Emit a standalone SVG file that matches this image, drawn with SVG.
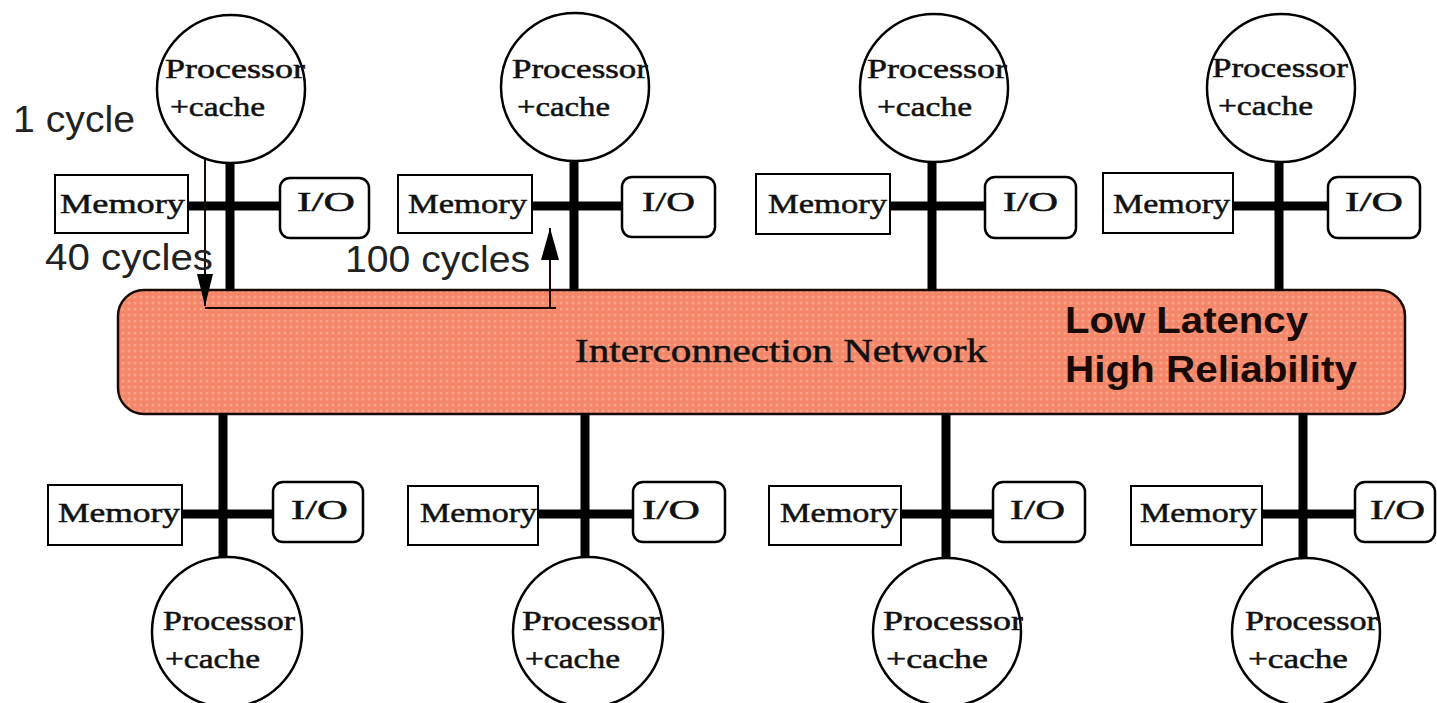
<svg xmlns="http://www.w3.org/2000/svg" width="1437" height="703" viewBox="0 0 1437 703">
<style>
.bus{stroke:#000;stroke-width:9;fill:none}
.proc{fill:#fff;stroke:#000;stroke-width:2.5}
.mem{fill:#fff;stroke:#000;stroke-width:2}
.io{fill:#fff;stroke:#000;stroke-width:2.5}
.st{font-family:"Liberation Serif","Times New Roman",serif;font-size:27px;fill:#111;stroke:#111;stroke-width:0.5}
.sa{font-family:"Liberation Sans",Arial,sans-serif;font-size:36px;fill:#222}
.sb{font-family:"Liberation Sans",Arial,sans-serif;font-size:36px;font-weight:bold;fill:#1a0a05}
.thin{stroke:#1a0a05;stroke-width:2;fill:none}
</style>
<defs>
<pattern id="dots" width="6" height="6" patternUnits="userSpaceOnUse">
<rect width="6" height="6" fill="#F4876A"/>
<circle cx="3" cy="3" r="1.6" fill="#F9A285"/>
</pattern>
<marker id="ah" viewBox="0 0 32 16" refX="32" refY="8" markerWidth="32" markerHeight="16" markerUnits="userSpaceOnUse" orient="auto">
<path d="M0,0 L32,8 L0,16 Z" fill="#000"/>
</marker>
<marker id="au" viewBox="0 0 32 18" refX="32" refY="9" markerWidth="32" markerHeight="18" markerUnits="userSpaceOnUse" orient="auto">
<path d="M0,0 L32,9 L0,18 Z" fill="#000"/>
</marker>
</defs>
<rect width="1437" height="703" fill="#fff"/>

<g id="network">
<rect x="118" y="290" width="1287" height="124" rx="26" ry="26" fill="url(#dots)" stroke="#1a0a05" stroke-width="2.5"/>
<text class="st" x="575" y="362" style="font-size:33px" textLength="412" lengthAdjust="spacingAndGlyphs">Interconnection Network</text>
<text class="sb" x="1065" y="333" textLength="243" lengthAdjust="spacingAndGlyphs">Low Latency</text>
<text class="sb" x="1065" y="382" textLength="292" lengthAdjust="spacingAndGlyphs">High Reliability</text>
</g>

<g id="connectors">
<line class="bus" x1="230" y1="160" x2="230" y2="291"/><line class="bus" x1="188" y1="206" x2="280" y2="206"/>
<line class="bus" x1="574" y1="160" x2="574" y2="291"/><line class="bus" x1="532" y1="206" x2="622" y2="206"/>
<line class="bus" x1="932" y1="160" x2="932" y2="291"/><line class="bus" x1="890" y1="206" x2="985" y2="206"/>
<line class="bus" x1="1279" y1="160" x2="1279" y2="291"/><line class="bus" x1="1233" y1="206" x2="1328" y2="206"/>
<line class="bus" x1="223" y1="413" x2="223" y2="560"/><line class="bus" x1="182" y1="514" x2="273" y2="514"/>
<line class="bus" x1="585" y1="413" x2="585" y2="560"/><line class="bus" x1="538" y1="514" x2="633" y2="514"/>
<line class="bus" x1="946" y1="413" x2="946" y2="560"/><line class="bus" x1="901" y1="514" x2="993" y2="514"/>
<line class="bus" x1="1303" y1="413" x2="1303" y2="560"/><line class="bus" x1="1262" y1="514" x2="1355" y2="514"/>
<path class="thin" d="M205,140 L205,306" marker-end="url(#ah)"/>
<path class="thin" d="M205,308 L556,308"/>
<path class="thin" d="M550,308 L550,228" marker-end="url(#au)"/>
</g>

<g id="labels">
<text class="sa" x="13" y="132" textLength="122" lengthAdjust="spacingAndGlyphs">1 cycle</text>
<text class="sa" x="45" y="270" textLength="168" lengthAdjust="spacingAndGlyphs">40 cycles</text>
<text class="sa" x="345" y="272" textLength="185" lengthAdjust="spacingAndGlyphs">100 cycles</text>
</g>

<g id="node-top-1">
<circle class="proc" cx="231" cy="89" r="74"/>
<text class="st" x="165" y="78" textLength="140" lengthAdjust="spacingAndGlyphs">Processor</text>
<text class="st" x="170" y="116" textLength="95" lengthAdjust="spacingAndGlyphs">+cache</text>
<rect class="mem" x="55" y="175" width="133" height="58"/>
<text class="st" x="60" y="213" textLength="125" lengthAdjust="spacingAndGlyphs">Memory</text>
<rect class="io" x="280" y="178" width="89" height="60" rx="10"/>
<text class="st" x="297" y="211" textLength="58" lengthAdjust="spacingAndGlyphs">I/O</text>
</g>

<g id="node-top-2">
<circle class="proc" cx="575" cy="87" r="74"/>
<text class="st" x="512" y="78" textLength="136" lengthAdjust="spacingAndGlyphs">Processor</text>
<text class="st" x="517" y="116" textLength="93" lengthAdjust="spacingAndGlyphs">+cache</text>
<rect class="mem" x="398" y="175" width="134" height="58"/>
<text class="st" x="408" y="213" textLength="119" lengthAdjust="spacingAndGlyphs">Memory</text>
<rect class="io" x="622" y="177" width="93" height="60" rx="10"/>
<text class="st" x="642" y="211" textLength="53" lengthAdjust="spacingAndGlyphs">I/O</text>
</g>

<g id="node-top-3">
<circle class="proc" cx="934" cy="88" r="74"/>
<text class="st" x="867" y="78" textLength="140" lengthAdjust="spacingAndGlyphs">Processor</text>
<text class="st" x="877" y="116" textLength="95" lengthAdjust="spacingAndGlyphs">+cache</text>
<rect class="mem" x="756" y="174" width="134" height="60"/>
<text class="st" x="768" y="213" textLength="119" lengthAdjust="spacingAndGlyphs">Memory</text>
<rect class="io" x="985" y="177" width="91" height="61" rx="10"/>
<text class="st" x="1003" y="211" textLength="55" lengthAdjust="spacingAndGlyphs">I/O</text>
</g>

<g id="node-top-4">
<circle class="proc" cx="1281" cy="88" r="74"/>
<text class="st" x="1212" y="77" textLength="136" lengthAdjust="spacingAndGlyphs">Processor</text>
<text class="st" x="1218" y="115" textLength="95" lengthAdjust="spacingAndGlyphs">+cache</text>
<rect class="mem" x="1103" y="173" width="130" height="60"/>
<text class="st" x="1113" y="213" textLength="117" lengthAdjust="spacingAndGlyphs">Memory</text>
<rect class="io" x="1328" y="177" width="92" height="61" rx="10"/>
<text class="st" x="1345" y="211" textLength="58" lengthAdjust="spacingAndGlyphs">I/O</text>
</g>

<g id="node-bottom-1">
<circle class="proc" cx="227" cy="632" r="75"/>
<text class="st" x="163" y="630" textLength="132" lengthAdjust="spacingAndGlyphs">Processor</text>
<text class="st" x="165" y="668" textLength="95" lengthAdjust="spacingAndGlyphs">+cache</text>
<rect class="mem" x="48" y="485" width="134" height="60"/>
<text class="st" x="58" y="522" textLength="122" lengthAdjust="spacingAndGlyphs">Memory</text>
<rect class="io" x="273" y="482" width="90" height="60" rx="10"/>
<text class="st" x="291" y="519" textLength="57" lengthAdjust="spacingAndGlyphs">I/O</text>
</g>

<g id="node-bottom-2">
<circle class="proc" cx="588" cy="632" r="75"/>
<text class="st" x="522" y="630" textLength="138" lengthAdjust="spacingAndGlyphs">Processor</text>
<text class="st" x="525" y="668" textLength="95" lengthAdjust="spacingAndGlyphs">+cache</text>
<rect class="mem" x="408" y="486" width="130" height="59"/>
<text class="st" x="420" y="522" textLength="117" lengthAdjust="spacingAndGlyphs">Memory</text>
<rect class="io" x="633" y="482" width="92" height="60" rx="10"/>
<text class="st" x="642" y="519" textLength="58" lengthAdjust="spacingAndGlyphs">I/O</text>
</g>

<g id="node-bottom-3">
<circle class="proc" cx="947" cy="632" r="74"/>
<text class="st" x="883" y="630" textLength="140" lengthAdjust="spacingAndGlyphs">Processor</text>
<text class="st" x="886" y="668" textLength="102" lengthAdjust="spacingAndGlyphs">+cache</text>
<rect class="mem" x="769" y="486" width="132" height="59"/>
<text class="st" x="780" y="522" textLength="118" lengthAdjust="spacingAndGlyphs">Memory</text>
<rect class="io" x="993" y="482" width="92" height="60" rx="10"/>
<text class="st" x="1010" y="519" textLength="55" lengthAdjust="spacingAndGlyphs">I/O</text>
</g>

<g id="node-bottom-4">
<circle class="proc" cx="1306" cy="632" r="74"/>
<text class="st" x="1245" y="630" textLength="133" lengthAdjust="spacingAndGlyphs">Processor</text>
<text class="st" x="1248" y="668" textLength="100" lengthAdjust="spacingAndGlyphs">+cache</text>
<rect class="mem" x="1131" y="486" width="131" height="59"/>
<text class="st" x="1140" y="522" textLength="117" lengthAdjust="spacingAndGlyphs">Memory</text>
<rect class="io" x="1355" y="482" width="80" height="60" rx="10"/>
<text class="st" x="1370" y="519" textLength="55" lengthAdjust="spacingAndGlyphs">I/O</text>
</g>
</svg>
